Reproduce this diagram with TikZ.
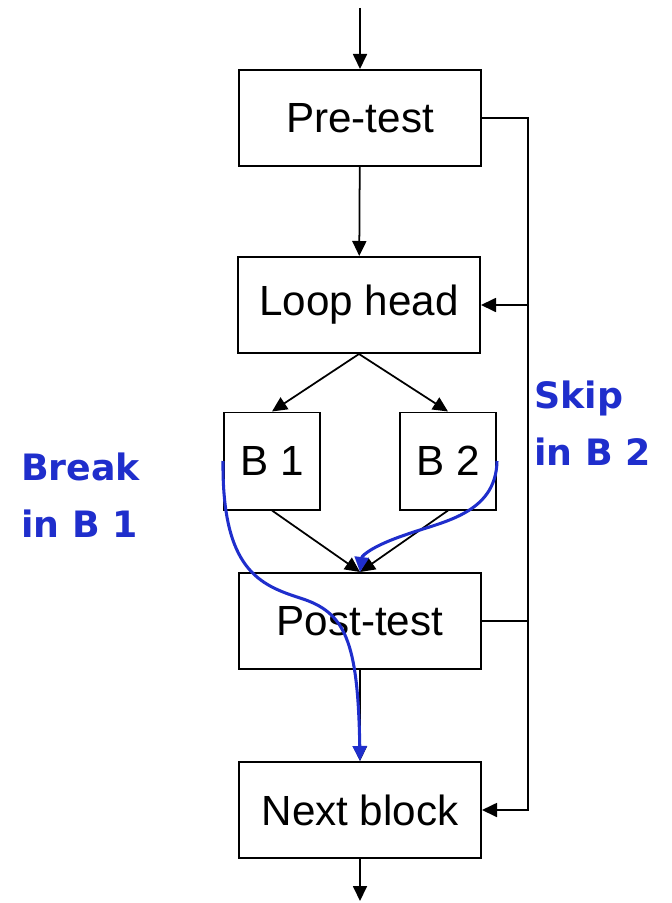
\documentclass[tikz,border=0pt]{standalone}
\usepackage{fontspec}
\setmainfont{Liberation Sans}
\newfontfamily\notefont{DejaVu Sans}
\usetikzlibrary{arrows.meta}
\definecolor{noteblue}{HTML}{1F2ECC}
\tikzset{
  every picture/.style={line join=miter, >={Triangle[length=0.45cm,width=0.42cm]}},
  block/.style={draw, line width=1.7pt, inner sep=0pt, minimum width=7.26cm, minimum height=2.88cm, font=\fontsize{36}{40}\selectfont},
  branch/.style={block, minimum width=2.88cm, minimum height=2.91cm},
  flow/.style={line width=1.5pt},
  jump/.style={noteblue, line width=2.6pt, ->},
  note/.style={noteblue, inner sep=0pt, align=left, anchor=north west, font=\notefont\bfseries\fontsize{31}{48}\selectfont},
}

\begin{document}
\begin{tikzpicture}[x=0.03cm,y=-0.03cm]
\useasboundingbox (0,0) rectangle (671,903);

% blocks of the loop
\node[block] (pretest) at (360,118) {Pre-test};
\node[block] (loophead) at (359,305) {Loop head};
\node[branch] (bone) at (272,461) {B 1};
\node[branch] (btwo) at (448,461) {B 2};
\node[block] (posttest) at (360,621) {Post-test};
\node[block] (nextblock) at (360,810) {Next block};
\coordinate (entry) at (360,8);
\coordinate (exit) at (360,901);
\coordinate (rail) at (528,0);

% normal flow
\draw[flow,->] (entry) -- (pretest);
\draw[flow,->] (pretest) -- (loophead);
\draw[flow,->] (loophead.south) -- (bone.north);
\draw[flow,->] (loophead.south) -- (btwo.north);
\draw[flow,->] (bone.south) -- (posttest.north);
\draw[flow,->] (btwo.south) -- (posttest.north);
\draw[flow,->] (posttest) -- (nextblock);
\draw[flow,->] (nextblock) -- (exit);
\draw[flow,->] (pretest.east) -- (pretest.east -| rail) -- (rail |- nextblock) -- (nextblock.east);
\draw[flow,->] (rail |- loophead) -- (loophead.east);
\draw[flow] (posttest.east) -- (posttest.east -| rail);

% break and skip
\draw[jump] (bone.west) .. controls (222,570) and (260,585) .. (300,598)
  .. controls (345,612) and (358,640) .. (nextblock.north);
\draw[jump] (btwo.east) .. controls (496,515) and (440,522) .. (405,535)
  .. controls (375,545) and (362,555) .. (posttest.north);
\node[note] (breaknote) at (21,453) {Break\\in B 1};
\node[note] (skipnote) at (534,381) {Skip\\in B 2};
\end{tikzpicture}
\end{document}
